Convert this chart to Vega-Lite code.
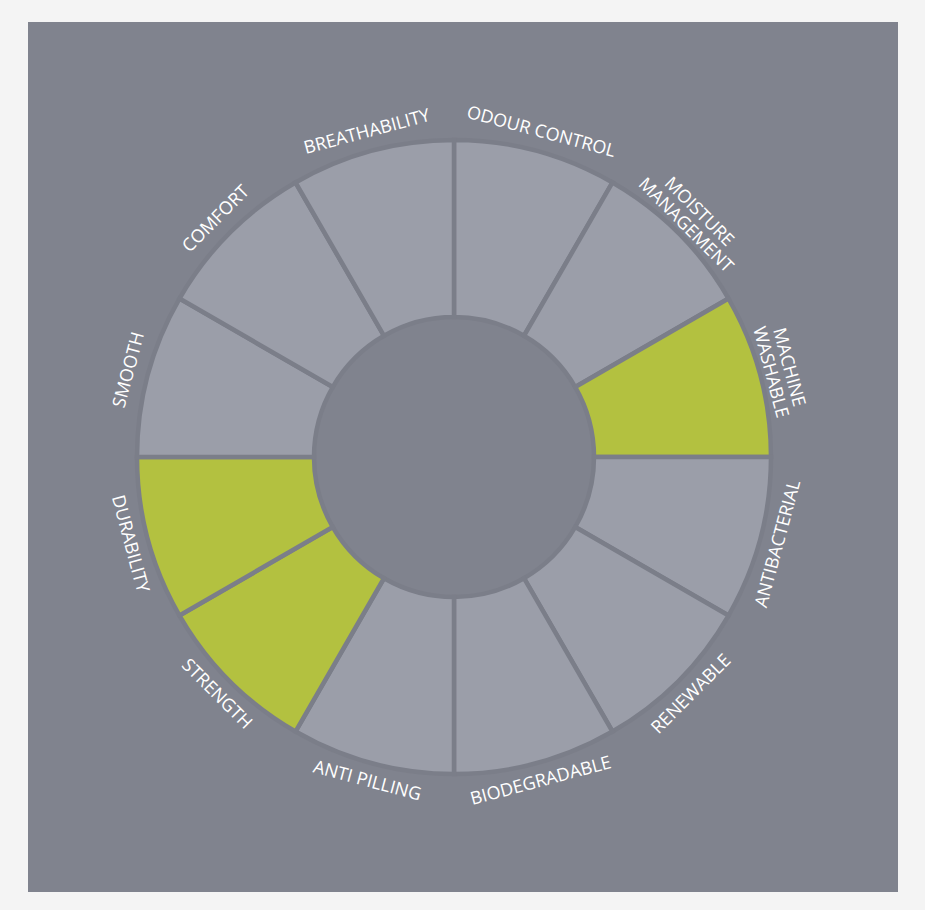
{
  "$schema": "https://vega.github.io/schema/vega-lite/v6.json",
  "width": 870,
  "height": 870,
  "autosize": {"type": "none"},
  "padding": {"left": 28, "top": 22, "right": 27, "bottom": 18},
  "background": "#f4f4f4",
  "view": {"fill": "#80838e", "stroke": null},
  "data": {
    "values": [
      {"idx": 1, "label": "ODOUR CONTROL", "share": 1, "highlight": "no"},
      {"idx": 2, "label": "MOISTURE\nMANAGEMENT", "share": 1, "highlight": "no"},
      {"idx": 3, "label": "MACHINE\nWASHABLE", "share": 1, "highlight": "yes"},
      {"idx": 4, "label": "ANTIBACTERIAL", "share": 1, "highlight": "no"},
      {"idx": 5, "label": "RENEWABLE", "share": 1, "highlight": "no"},
      {"idx": 6, "label": "BIODEGRADABLE", "share": 1, "highlight": "no"},
      {"idx": 7, "label": "ANTI PILLING", "share": 1, "highlight": "no"},
      {"idx": 8, "label": "STRENGTH", "share": 1, "highlight": "yes"},
      {"idx": 9, "label": "DURABILITY", "share": 1, "highlight": "yes"},
      {"idx": 10, "label": "SMOOTH", "share": 1, "highlight": "no"},
      {"idx": 11, "label": "COMFORT", "share": 1, "highlight": "no"},
      {"idx": 12, "label": "BREATHABILITY", "share": 1, "highlight": "no"}
    ]
  },
  "encoding": {
    "theta": {"field": "share", "type": "quantitative", "stack": true},
    "order": {"field": "idx", "type": "quantitative"}
  },
  "layer": [
    {
      "mark": {"type": "arc", "innerRadius": 140, "outerRadius": 317, "stroke": "#7b7e89", "strokeWidth": 4.5, "xOffset": -9},
      "encoding": {
        "color": {"field": "highlight", "type": "nominal", "scale": {"domain": ["no", "yes"], "range": ["#9b9ea9", "#b3c140"]}, "legend": null}
      }
    },
    {
      "mark": {"type": "text", "radius": 336, "xOffset": -9, "font": "Open Sans", "fontSize": 18, "fill": "#ffffff", "lineBreak": "\n", "baseline": "middle", "align": "center", "lineHeight": 19},
      "encoding": {
        "text": {"condition": {"test": "datum.idx == 2 || datum.idx == 3", "value": ""}, "field": "label"},
        "angle": {"field": "idx", "type": "nominal", "scale": {"type": "ordinal", "domain": [1,2,3,4,5,6,7,8,9,10,11,12], "range": [15,45,75,-75,-45,-15,15,45,75,-75,-45,-15]}, "legend": null}
      }
    },
    {
      "mark": {"type": "text", "radius": 346, "xOffset": -9, "font": "Open Sans", "fontSize": 18, "fill": "#ffffff", "lineBreak": "\n", "baseline": "middle", "align": "center", "lineHeight": 19},
      "encoding": {
        "text": {"condition": {"test": "datum.idx != 2 && datum.idx != 3", "value": ""}, "field": "label"},
        "angle": {"field": "idx", "type": "nominal", "scale": {"type": "ordinal", "domain": [1,2,3,4,5,6,7,8,9,10,11,12], "range": [15,45,75,-75,-45,-15,15,45,75,-75,-45,-15]}, "legend": null}
      }
    }
  ]
}
